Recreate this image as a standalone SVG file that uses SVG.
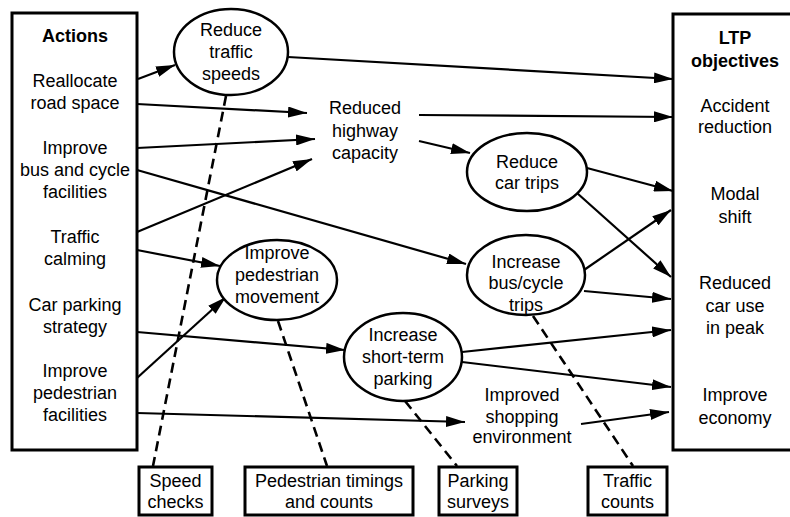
<svg xmlns="http://www.w3.org/2000/svg" width="790" height="517" viewBox="0 0 790 517">
<defs>
<style>
text{font-family:"Liberation Sans",Arial,sans-serif;font-size:18px;fill:#000;text-anchor:middle}
.b{font-weight:bold}
.box{fill:#fff;stroke:#000;stroke-width:3}
.ell{fill:#fff;stroke:#000;stroke-width:2.5}
.c{stroke:#000;stroke-width:2.2;fill:none}
.a{marker-end:url(#ah)}
.d{stroke:#000;stroke-width:2.6;fill:none;stroke-dasharray:10 6}
</style>
<marker id="ah" viewBox="0 0 19 11" refX="19" refY="5.5" markerWidth="19" markerHeight="11" markerUnits="userSpaceOnUse" orient="auto">
<path d="M0,0 L19,5.5 L0,11 z" fill="#000"/>
</marker>
</defs>
<rect width="790" height="517" fill="#fff"/>

<g id="connectors">
<line class="c a" x1="138" y1="79" x2="175" y2="65"/>
<line class="c a" x1="137" y1="104" x2="307" y2="113"/>
<line class="c a" x1="137" y1="148" x2="315" y2="139"/>
<line class="c a" x1="137" y1="170" x2="466" y2="264"/>
<line class="c a" x1="137" y1="232" x2="312" y2="159"/>
<line class="c a" x1="137" y1="250" x2="220" y2="266"/>
<line class="c a" x1="137" y1="332" x2="345" y2="350"/>
<line class="c a" x1="137" y1="378" x2="226" y2="297"/>
<line class="c a" x1="137" y1="413" x2="465" y2="422"/>
<line class="c a" x1="288" y1="57" x2="673" y2="79"/>
<line class="c a" x1="419" y1="115" x2="673" y2="117"/>
<line class="c a" x1="419" y1="141" x2="470" y2="153"/>
<line class="c a" x1="587" y1="168" x2="673" y2="191"/>
<line class="c a" x1="577" y1="193" x2="671" y2="277"/>
<line class="c a" x1="584" y1="270" x2="671" y2="210"/>
<line class="c a" x1="584" y1="291" x2="671" y2="299"/>
<line class="c a" x1="462" y1="352" x2="671" y2="330"/>
<line class="c a" x1="462" y1="362" x2="671" y2="387"/>
<line class="c a" x1="581" y1="424" x2="669" y2="412"/>
<line class="d" x1="226" y1="96" x2="153" y2="466"/>
<line class="d" x1="278" y1="321" x2="327" y2="466"/>
<line class="d" x1="405" y1="401" x2="457" y2="466"/>
<line class="d" x1="533" y1="316" x2="633" y2="466"/>
</g>

<g id="actions">
<rect class="box" x="12" y="13" width="125" height="437"/>
<text class="b" x="75" y="42">Actions</text>
<text x="75" y="87">Reallocate</text>
<text x="75" y="109">road space</text>
<text x="75" y="154">Improve</text>
<text x="75" y="176">bus and cycle</text>
<text x="75" y="198">facilities</text>
<text x="75" y="243">Traffic</text>
<text x="75" y="265">calming</text>
<text x="75" y="311">Car parking</text>
<text x="75" y="333">strategy</text>
<text x="75" y="377">Improve</text>
<text x="75" y="399">pedestrian</text>
<text x="75" y="421">facilities</text>
</g>

<g id="objectives">
<rect class="box" x="673" y="14" width="130" height="436"/>
<text class="b" x="735" y="44">LTP</text>
<text class="b" x="735" y="67">objectives</text>
<text x="735" y="112">Accident</text>
<text x="735" y="133">reduction</text>
<text x="735" y="200">Modal</text>
<text x="735" y="223">shift</text>
<text x="735" y="289">Reduced</text>
<text x="735" y="312">car use</text>
<text x="735" y="334">in peak</text>
<text x="735" y="401">Improve</text>
<text x="735" y="424">economy</text>
</g>

<g id="reduce-traffic-speeds">
<ellipse class="ell" cx="231" cy="52" rx="57" ry="43"/>
<text x="231" y="36">Reduce</text>
<text x="231" y="58">traffic</text>
<text x="231" y="80">speeds</text>
</g>

<g id="reduced-highway-capacity">
<text x="365" y="114">Reduced</text>
<text x="365" y="137">highway</text>
<text x="365" y="159">capacity</text>
</g>

<g id="reduce-car-trips">
<ellipse class="ell" cx="527" cy="172" rx="60" ry="39"/>
<text x="527" y="168">Reduce</text>
<text x="527" y="189">car trips</text>
</g>

<g id="increase-bus-cycle-trips">
<ellipse class="ell" cx="526" cy="275" rx="59" ry="40"/>
<text x="526" y="268">Increase</text>
<text x="526" y="289">bus/cycle</text>
<text x="526" y="311">trips</text>
</g>

<g id="improve-pedestrian-movement">
<ellipse class="ell" cx="277" cy="280" rx="60" ry="40"/>
<text x="277" y="259">Improve</text>
<text x="277" y="281">pedestrian</text>
<text x="277" y="303">movement</text>
</g>

<g id="increase-short-term-parking">
<ellipse class="ell" cx="403" cy="357" rx="59" ry="44"/>
<text x="403" y="341">Increase</text>
<text x="403" y="363">short-term</text>
<text x="403" y="385">parking</text>
</g>

<g id="improved-shopping-environment">
<text x="522" y="401">Improved</text>
<text x="522" y="423">shopping</text>
<text x="522" y="443">environment</text>
</g>

<g id="speed-checks">
<rect class="box" x="139" y="467" width="73" height="48"/>
<text x="175.5" y="487">Speed</text>
<text x="175.5" y="508">checks</text>
</g>

<g id="pedestrian-timings">
<rect class="box" x="245" y="467" width="168" height="48"/>
<text x="329" y="487">Pedestrian timings</text>
<text x="329" y="508">and counts</text>
</g>

<g id="parking-surveys">
<rect class="box" x="439" y="467" width="78" height="48"/>
<text x="478" y="487">Parking</text>
<text x="478" y="508">surveys</text>
</g>

<g id="traffic-counts">
<rect class="box" x="588" y="467" width="79" height="48"/>
<text x="627.5" y="487">Traffic</text>
<text x="627.5" y="508">counts</text>
</g>
</svg>
